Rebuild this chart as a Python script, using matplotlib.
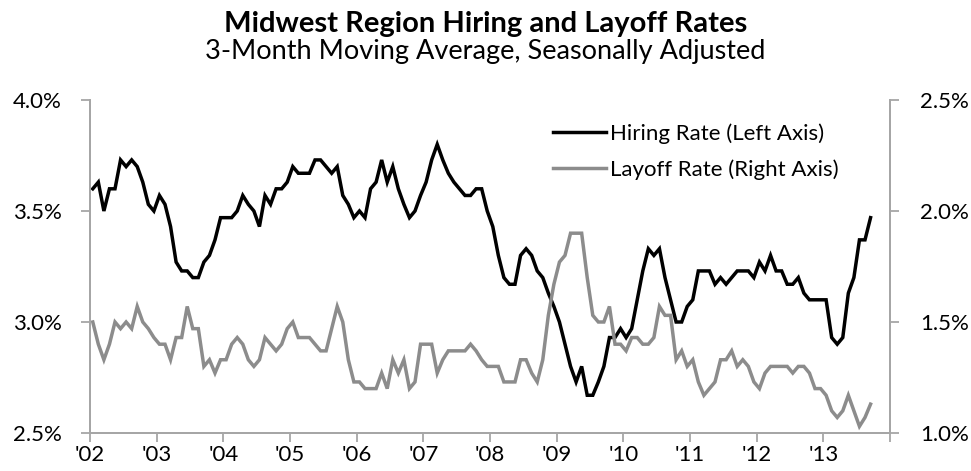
import numpy as np
import matplotlib.pyplot as plt
from matplotlib.ticker import FuncFormatter

plt.rcParams['font.family'] = ['Lato', 'DejaVu Sans']

# monthly 3-month moving averages, Jan 2002 - Sep 2013
hiring = [
    3.60, 3.63, 3.50, 3.60, 3.60, 3.73, 3.70, 3.73, 3.70, 3.63, 3.53, 3.50,  # 2002
    3.57, 3.53, 3.43, 3.27, 3.23, 3.23, 3.20, 3.20, 3.27, 3.30, 3.37, 3.47,  # 2003
    3.47, 3.47, 3.50, 3.57, 3.53, 3.50, 3.43, 3.57, 3.53, 3.60, 3.60, 3.63,  # 2004
    3.70, 3.67, 3.67, 3.67, 3.73, 3.73, 3.70, 3.67, 3.70, 3.57, 3.53, 3.47,  # 2005
    3.50, 3.47, 3.60, 3.63, 3.73, 3.63, 3.70, 3.60, 3.53, 3.47, 3.50, 3.57,  # 2006
    3.63, 3.73, 3.80, 3.73, 3.67, 3.63, 3.60, 3.57, 3.57, 3.60, 3.60, 3.50,  # 2007
    3.43, 3.30, 3.20, 3.17, 3.17, 3.30, 3.33, 3.30, 3.23, 3.20, 3.13, 3.07,  # 2008
    3.00, 2.90, 2.80, 2.73, 2.80, 2.67, 2.67, 2.73, 2.80, 2.93, 2.93, 2.97,  # 2009
    2.93, 2.97, 3.10, 3.23, 3.33, 3.30, 3.33, 3.20, 3.10, 3.00, 3.00, 3.07,  # 2010
    3.10, 3.23, 3.23, 3.23, 3.17, 3.20, 3.17, 3.20, 3.23, 3.23, 3.23, 3.20,  # 2011
    3.27, 3.23, 3.30, 3.23, 3.23, 3.17, 3.17, 3.20, 3.13, 3.10, 3.10, 3.10,  # 2012
    3.10, 2.93, 2.90, 2.93, 3.13, 3.20, 3.37, 3.37, 3.47,                    # 2013
]
layoff = [
    1.50, 1.40, 1.33, 1.40, 1.50, 1.47, 1.50, 1.47, 1.57, 1.50, 1.47, 1.43,  # 2002
    1.40, 1.40, 1.33, 1.43, 1.43, 1.57, 1.47, 1.47, 1.30, 1.33, 1.27, 1.33,  # 2003
    1.33, 1.40, 1.43, 1.40, 1.33, 1.30, 1.33, 1.43, 1.40, 1.37, 1.40, 1.47,  # 2004
    1.50, 1.43, 1.43, 1.43, 1.40, 1.37, 1.37, 1.47, 1.57, 1.50, 1.33, 1.23,  # 2005
    1.23, 1.20, 1.20, 1.20, 1.27, 1.20, 1.33, 1.27, 1.33, 1.20, 1.23, 1.40,  # 2006
    1.40, 1.40, 1.27, 1.33, 1.37, 1.37, 1.37, 1.37, 1.40, 1.37, 1.33, 1.30,  # 2007
    1.30, 1.30, 1.23, 1.23, 1.23, 1.33, 1.33, 1.27, 1.23, 1.33, 1.53, 1.67,  # 2008
    1.77, 1.80, 1.90, 1.90, 1.90, 1.70, 1.53, 1.50, 1.50, 1.57, 1.40, 1.40,  # 2009
    1.37, 1.43, 1.43, 1.40, 1.40, 1.43, 1.57, 1.53, 1.53, 1.33, 1.37, 1.30,  # 2010
    1.33, 1.23, 1.17, 1.20, 1.23, 1.33, 1.33, 1.37, 1.30, 1.33, 1.30, 1.23,  # 2011
    1.20, 1.27, 1.30, 1.30, 1.30, 1.30, 1.27, 1.30, 1.30, 1.27, 1.20, 1.20,  # 2012
    1.17, 1.10, 1.07, 1.10, 1.17, 1.10, 1.03, 1.07, 1.13,                    # 2013
]
years = list(range(2002, 2015))
year_labels = ["'02", "'03", "'04", "'05", "'06", "'07", "'08", "'09",
               "'10", "'11", "'12", "'13", ""]

x = 2002 + (np.arange(len(hiring)) + 0.5) / 12.0

fig = plt.figure(figsize=(9.71, 4.71), dpi=100)
ax = fig.add_axes([90 / 971, 1 - 433 / 471, 800 / 971, 333 / 471])
ax2 = ax.twinx()

axis_grey = '#a6a6a6'
l1, = ax.plot(x, hiring, color='black', lw=2.5, solid_joinstyle='miter',
              label='Hiring Rate (Left Axis)')
l2, = ax2.plot(x, layoff, color='#8c8c8c', lw=2.5, solid_joinstyle='miter',
               label='Layoff Rate (Right Axis)')

ax.set_xlim(2002, 2014)
ax.set_ylim(2.5, 4.0)
ax2.set_ylim(1.0, 2.5)
ax.set_yticks([2.5, 3.0, 3.5, 4.0])
ax2.set_yticks([1.0, 1.5, 2.0, 2.5])
pct = FuncFormatter(lambda v, p: '%.1f%%' % v)
ax.yaxis.set_major_formatter(pct)
ax2.yaxis.set_major_formatter(pct)
ax.set_xticks(years)
ax.set_xticklabels(year_labels)

for a in (ax, ax2):
    for s in a.spines.values():
        s.set_color(axis_grey)
        s.set_linewidth(1.3)
    a.spines['top'].set_visible(False)
    a.tick_params(colors=axis_grey, labelcolor='black', labelsize=16,
                  length=6.5, width=1.3, direction='out')
ax.tick_params(axis='x', pad=2)
ax.tick_params(axis='y', pad=14)
ax2.tick_params(axis='y', pad=15)

fig.text(0.5, 0.950, 'Midwest Region Hiring and Layoff Rates', ha='center',
         va='center', fontsize=21, fontweight='bold')
fig.text(0.5, 0.890, '3-Month Moving Average, Seasonally Adjusted',
         ha='center', va='center', fontsize=19.5)

leg = ax2.legend(handles=[l1, l2], loc='upper left',
                 bbox_to_anchor=(553 / 971, 1 - 123 / 471),
                 bbox_transform=fig.transFigure, frameon=False,
                 fontsize=16, handlelength=2.4, handletextpad=0.15,
                 labelspacing=0.72, borderpad=0, borderaxespad=0)

fig.savefig('out.png', dpi=100)
